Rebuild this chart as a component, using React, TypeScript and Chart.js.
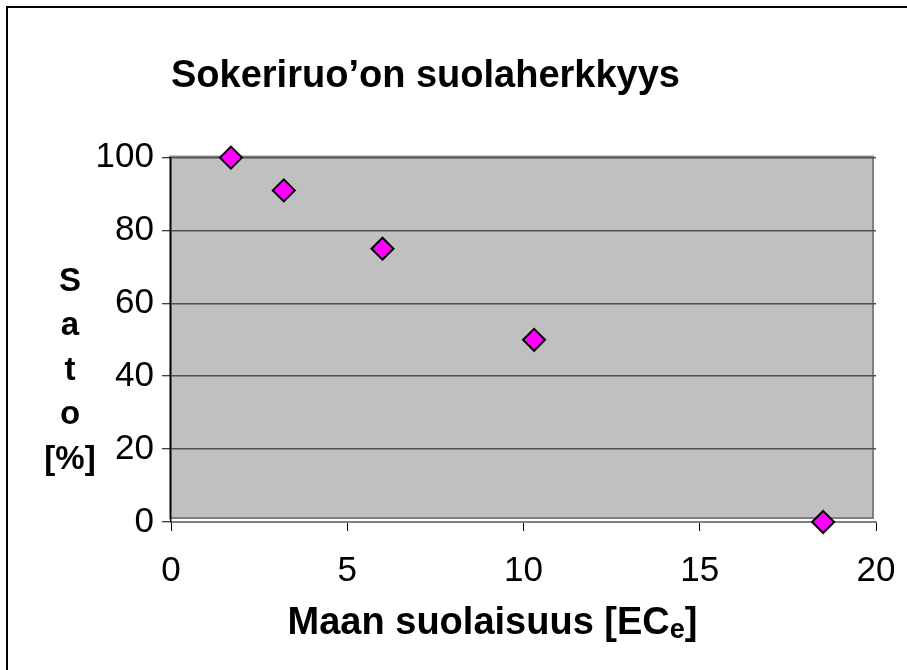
import React, { useEffect, useRef } from 'react';
import { Chart, registerables } from 'chart.js';

Chart.register(...registerables);

// ---- data ----
const salinity = [1.7, 3.2, 6.0, 10.3, 18.5];
const yieldPct = [100, 91, 75, 50, 0];

// ---- text ----
const titleText = 'Sokeriruo’on suolaherkkyys';
const yTitleLines = ['S', 'a', 't', 'o', '[%]'];
const xTitleMain = 'Maan suolaisuus [EC';
const xTitleSub = 'e';
const xTitleEnd = ']';

// ---- axes ----
const xMin = 0;
const xMax = 20;
const xStep = 5;
const yMin = 0;
const yMax = 100;
const yStep = 20;

const FONT = '"Liberation Sans", Arial, Helvetica, sans-serif';

const backgroundPlugin = {
  id: 'plotBackground',
  beforeDraw(chart: any) {
    const { ctx, chartArea: a } = chart;
    ctx.save();
    ctx.fillStyle = '#ffffff';
    ctx.fillRect(0, 0, chart.width, chart.height);
    ctx.fillStyle = '#c0c0c0';
    ctx.fillRect(a.left - 1, a.top - 1, a.right - a.left - 2, a.bottom - a.top - 3);
    ctx.strokeStyle = '#808080';
    ctx.lineWidth = 2;
    ctx.strokeRect(a.left - 1, a.top - 1, a.right - a.left - 2, a.bottom - a.top - 3);
    // outer frame
    ctx.strokeStyle = '#000000';
    ctx.lineWidth = 2;
    ctx.beginPath();
    ctx.moveTo(7, chart.height);
    ctx.lineTo(7, 7);
    ctx.lineTo(chart.width, 7);
    ctx.stroke();
    ctx.restore();
  },
};

const axisTitlesPlugin = {
  id: 'axisTitles',
  afterDraw(chart: any) {
    const { ctx, chartArea: a } = chart;
    ctx.save();
    ctx.fillStyle = '#000000';
    // y-axis title, stacked letters
    ctx.font = `bold 33px ${FONT}`;
    ctx.textAlign = 'center';
    ctx.textBaseline = 'alphabetic';
    const lineGap = 44.6;
    const midY = (a.top + a.bottom) / 2;
    const firstBase = midY + 40 - 2 * lineGap;
    yTitleLines.forEach((t, i) => {
      ctx.fillText(t, 70, firstBase + i * lineGap);
    });
    // x-axis title with subscript
    const mainFont = `bold 38px ${FONT}`;
    const subFont = `bold 27px ${FONT}`;
    ctx.textAlign = 'left';
    ctx.font = mainFont;
    const w1 = ctx.measureText(xTitleMain).width;
    const w3 = ctx.measureText(xTitleEnd).width;
    ctx.font = subFont;
    const w2 = ctx.measureText(xTitleSub).width;
    const total = w1 + w2 + w3;
    const cx = a.left + 321.5;
    const base = a.bottom + 111.5;
    const x0 = cx - total / 2;
    ctx.font = mainFont;
    ctx.fillText(xTitleMain, x0, base);
    ctx.font = subFont;
    ctx.fillText(xTitleSub, x0 + w1, base + 4);
    ctx.font = mainFont;
    ctx.fillText(xTitleEnd, x0 + w1 + w2, base);
    ctx.restore();
  },
};

export default function App() {
  const canvasRef = useRef<HTMLCanvasElement | null>(null);

  useEffect(() => {
    if (!canvasRef.current) return;
    const chart = new Chart(canvasRef.current, {
      type: 'scatter',
      data: {
        datasets: [
          {
            label: 'Sato',
            data: salinity.map((x, i) => ({ x, y: yieldPct[i] })),
            pointStyle: 'rectRot',
            pointRadius: 11,
            pointHoverRadius: 11,
            backgroundColor: '#ff00ff',
            borderColor: '#000000',
            borderWidth: 2,
            showLine: false,
            clip: false as any,
          },
        ],
      },
      options: {
        responsive: false,
        devicePixelRatio: 1,
        animation: false,
        layout: { padding: { left: 0, right: 31, top: 0, bottom: 0 } },
        plugins: {
          legend: { display: false },
          tooltip: { enabled: false },
          title: {
            display: true,
            text: titleText,
            align: 'start',
            fullSize: false,
            color: '#000000',
            font: { family: FONT, size: 38, weight: 'bold' },
            padding: { top: 54, bottom: 58 },
          },
        },
        scales: {
          x: {
            type: 'linear',
            min: xMin,
            max: xMax,
            afterFit: (scale: any) => {
              scale.height = 148;
              scale.paddingLeft = 0;
              scale.paddingRight = 0;
            },
            ticks: {
              stepSize: xStep,
              color: '#000000',
              padding: 19,
              font: { family: FONT, size: 35 },
            },
            grid: {
              drawOnChartArea: false,
              drawTicks: true,
              tickLength: 9,
              tickColor: '#000000',
              tickWidth: 1,
            },
            border: { display: true, color: '#808080', width: 2 },
          },
          y: {
            type: 'linear',
            min: yMin,
            max: yMax,
            afterFit: (scale: any) => {
              scale.width = 171;
              scale.paddingTop = 0;
              scale.paddingBottom = 0;
            },
            ticks: {
              stepSize: yStep,
              color: '#000000',
              padding: 8,
              font: { family: FONT, size: 35 },
            },
            grid: {
              color: '#505050',
              lineWidth: 1.5,
              drawTicks: true,
              tickLength: 9,
              tickColor: '#000000',
              tickWidth: 1,
            },
            border: { display: true, color: '#000000', width: 1.5 },
          },
        },
      },
      plugins: [backgroundPlugin, axisTitlesPlugin],
    });
    return () => chart.destroy();
  }, []);

  return (
    <div style={{ position: 'absolute', left: 0, top: 0, width: 907, height: 670 }}>
      <canvas ref={canvasRef} width={907} height={670} style={{ display: 'block', width: 907, height: 670 }} />
    </div>
  );
}
